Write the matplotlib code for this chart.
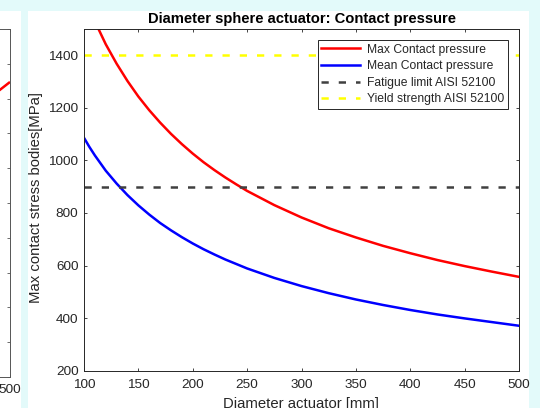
import matplotlib
matplotlib.use("Agg")
import matplotlib.pyplot as plt
from matplotlib.patches import Rectangle

plt.rcParams['font.family'] = ['Liberation Sans', 'DejaVu Sans']

# values
diam = [100, 105, 110, 120, 130, 140, 150, 160, 170, 180, 190, 200, 210, 220,
        230, 240, 250, 275, 300, 325, 350, 375, 400, 425, 450, 475, 500]
max_p = [1629, 1577, 1529, 1442, 1368, 1302, 1243, 1191, 1144, 1101, 1062,
         1026, 993, 963, 935, 909, 884, 830, 783, 742, 707, 675, 647, 621,
         598, 577, 557]
mean_p = [1086, 1051, 1019, 961, 912, 868, 829, 794, 762, 734, 708, 684, 662,
          642, 623, 606, 589, 553, 522, 495, 471, 450, 431, 414, 399, 385, 371]
limit_d = [100, 500]
fatigue = [900, 900]
yield_s = [1400, 1400]

# neighbouring subplot, only its right edge is visible
left_d = [480, 490, 500]
left_p = [4007, 4124, 4239]

ink = '#262626'
bg = '#e3fafa'

fig = plt.figure(figsize=(5.4, 4.08), dpi=100, facecolor=bg)
W, H = 540, 408

def px_rect(x0, y0, x1, y1, color):
    fig.add_artist(Rectangle((x0 / W, 1 - y1 / H), (x1 - x0) / W, (y1 - y0) / H,
                             transform=fig.transFigure, facecolor=color,
                             edgecolor='none', zorder=-10))

px_rect(0, 11, 21, 408, 'white')
px_rect(28, 11, 528.5, 408, 'white')

# left (cut) axes
axl = fig.add_axes([-400 / W, 1 - 377 / H, 410 / W, 348 / H])
axl.plot(left_d, left_p, color='red', lw=1.8, solid_capstyle='butt')
axl.set_xlim(100, 500)
axl.set_ylim(0, 5000)
axl.set_xticks(range(100, 501, 50))
axl.set_yticks(range(0, 5001, 500))
axl.tick_params(direction='in', length=2.5, width=0.6, colors='#555555',
                labelcolor=ink, labelsize=9.7, right=True, top=True, pad=5)
for s in axl.spines.values():
    s.set_color('#555555')
    s.set_linewidth(0.7)
axl.set_facecolor('white')

# main axes
ax = fig.add_axes([84 / W, 1 - 370.7 / H, 435 / W, 341.7 / H])
ax.plot(diam, max_p, color='red', lw=1.8, label='Max Contact pressure')
ax.plot(diam, mean_p, color='blue', lw=1.8, label='Mean Contact pressure')
ax.plot(limit_d, fatigue, color='#404040', lw=1.8, dashes=(2.9, 4.0),
        label='Fatigue limit AISI 52100')
ax.plot(limit_d, yield_s, color='yellow', lw=1.8, dashes=(2.9, 4.0),
        label='Yield strength AISI 52100')

ax.set_xlim(100, 500)
ax.set_ylim(200, 1500)
ax.set_xticks(range(100, 501, 50))
ax.set_yticks(range(200, 1401, 200))
ax.tick_params(direction='in', length=2.5, width=0.6, colors=ink,
               labelsize=9.7, right=True, top=True)
ax.tick_params(axis='y', pad=4)
ax.tick_params(axis='x', pad=6)
for s in ax.spines.values():
    s.set_color(ink)
    s.set_linewidth(0.7)

ax.set_title('Diameter sphere actuator: Contact pressure', fontsize=10.6,
             fontweight='bold', color='black', pad=4.5)
ax.set_xlabel('Diameter actuator [mm]', fontsize=10.7, color=ink)
ax.set_ylabel('Max contact stress bodies[MPa]', fontsize=10.7, color=ink)
ax.xaxis.set_label_coords(0.499, -0.077)
ax.yaxis.set_label_coords(-0.094, 0.507)

leg = ax.legend(loc='upper right', bbox_to_anchor=(508 / W, 1 - 40 / H),
                bbox_transform=fig.transFigure, borderaxespad=0,
                fontsize=8.7, fancybox=False, framealpha=1, edgecolor=ink,
                handlelength=3.25, handletextpad=0.55, labelspacing=0.38,
                borderpad=0.3)
leg.get_frame().set_linewidth(0.7)
for t in leg.get_texts():
    t.set_color(ink)

fig.savefig('out.png', dpi=100, facecolor=bg)
